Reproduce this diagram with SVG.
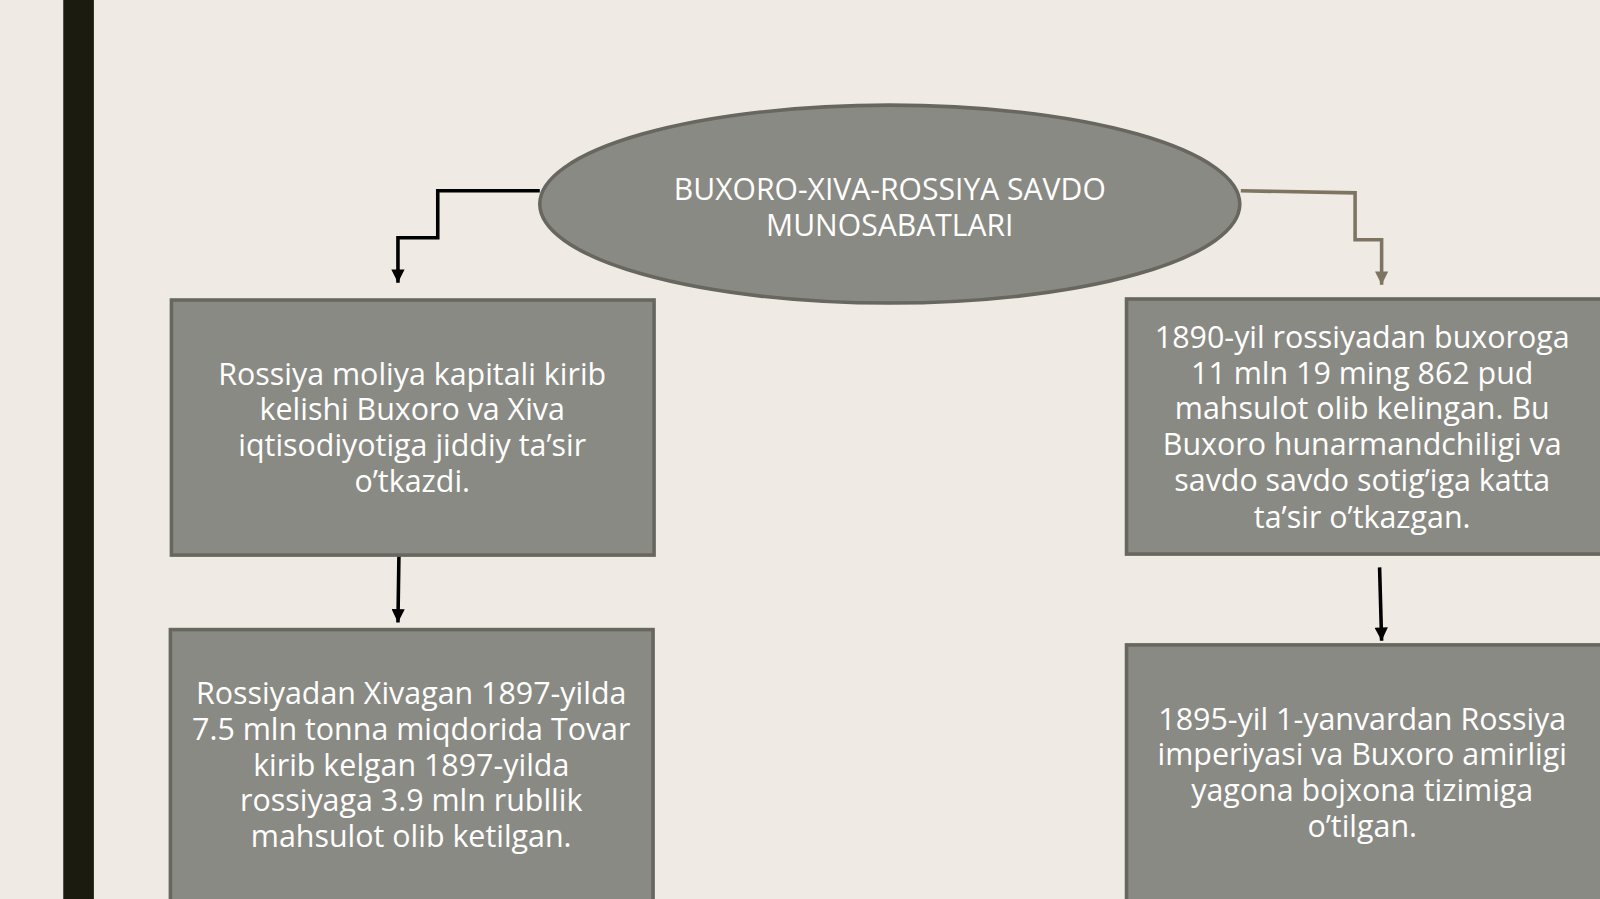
<svg xmlns="http://www.w3.org/2000/svg" width="1600" height="899" viewBox="0 0 1600 899">
<defs>
<style>
.box{fill:#8a8a84;stroke:#67675f;stroke-width:3.5}
.t{font-family:"Open Sans","Noto Sans","DejaVu Sans",sans-serif;font-size:29.8px;fill:#ffffff;text-anchor:middle}
.title{font-family:"Open Sans","Noto Sans","DejaVu Sans",sans-serif;font-size:29.5px;fill:#ffffff;text-anchor:middle}
.cb{fill:none;stroke:#000000;stroke-width:3.5}
.cr{fill:none;stroke:#7f7461;stroke-width:3.5}
</style>
<marker id="ab" viewBox="0 0 10 10" refX="10" refY="5" markerWidth="14" markerHeight="13" markerUnits="userSpaceOnUse" orient="auto">
<path d="M0,0 L10,5 L0,10 Z" fill="#000000"/>
</marker>
<marker id="ar" viewBox="0 0 10 10" refX="10" refY="5" markerWidth="14" markerHeight="13" markerUnits="userSpaceOnUse" orient="auto">
<path d="M0,0 L10,5 L0,10 Z" fill="#7f7461"/>
</marker>
</defs>
<rect x="0" y="0" width="1600" height="899" fill="#efebe4"/>
<g transform="scale(1.0204)">
<rect x="62" y="0" width="30" height="899" fill="#1b1b10"/>
<g id="connectors">
<polyline class="cb" points="529,187 429,187 429,233 390,233 390,277" marker-end="url(#ab)"/>
<polyline class="cr" points="1216,187 1328,189 1328,235 1354,235 1354,279" marker-end="url(#ar)"/>
<line class="cb" x1="391" y1="541" x2="390" y2="610" marker-end="url(#ab)"/>
<line class="cb" x1="1352" y1="556" x2="1354" y2="628" marker-end="url(#ab)"/>
</g>
<g id="title">
<ellipse cx="872" cy="200" rx="343" ry="97" fill="#8a8a84" stroke="#67675f" stroke-width="3.5"/>
<text class="title" x="872" y="196">BUXORO-XIVA-ROSSIYA SAVDO</text>
<text class="title" x="872" y="231">MUNOSABATLARI</text>
</g>
<g id="box1">
<rect class="box" x="168" y="294" width="473" height="250"/>
<text class="t" x="404" y="377">Rossiya moliya kapitali kirib</text>
<text class="t" x="404" y="412">kelishi Buxoro va Xiva</text>
<text class="t" x="404" y="447">iqtisodiyotiga jiddiy ta’sir</text>
<text class="t" x="404" y="482">o’tkazdi.</text>
</g>
<g id="box2">
<rect class="box" x="167" y="617" width="473" height="290"/>
<text class="t" x="403" y="690">Rossiyadan Xivagan 1897-yilda</text>
<text class="t" x="403" y="725">7.5 mln tonna miqdorida Tovar</text>
<text class="t" x="403" y="760">kirib kelgan 1897-yilda</text>
<text class="t" x="403" y="795">rossiyaga 3.9 mln rubllik</text>
<text class="t" x="403" y="830">mahsulot olib ketilgan.</text>
</g>
<g id="box3">
<rect class="box" x="1104" y="293" width="470" height="250"/>
<text class="t" x="1335" y="341">1890-yil rossiyadan buxoroga</text>
<text class="t" x="1335" y="376">11 mln 19 ming 862 pud</text>
<text class="t" x="1335" y="411">mahsulot olib kelingan. Bu</text>
<text class="t" x="1335" y="446">Buxoro hunarmandchiligi va</text>
<text class="t" x="1335" y="481">savdo savdo sotig’iga katta</text>
<text class="t" x="1335" y="517">ta’sir o’tkazgan.</text>
</g>
<g id="box4">
<rect class="box" x="1104" y="632" width="470" height="280"/>
<text class="t" x="1335" y="715">1895-yil 1-yanvardan Rossiya</text>
<text class="t" x="1335" y="750">imperiyasi va Buxoro amirligi</text>
<text class="t" x="1335" y="785">yagona bojxona tizimiga</text>
<text class="t" x="1335" y="820">o’tilgan.</text>
</g>
</g>
</svg>
